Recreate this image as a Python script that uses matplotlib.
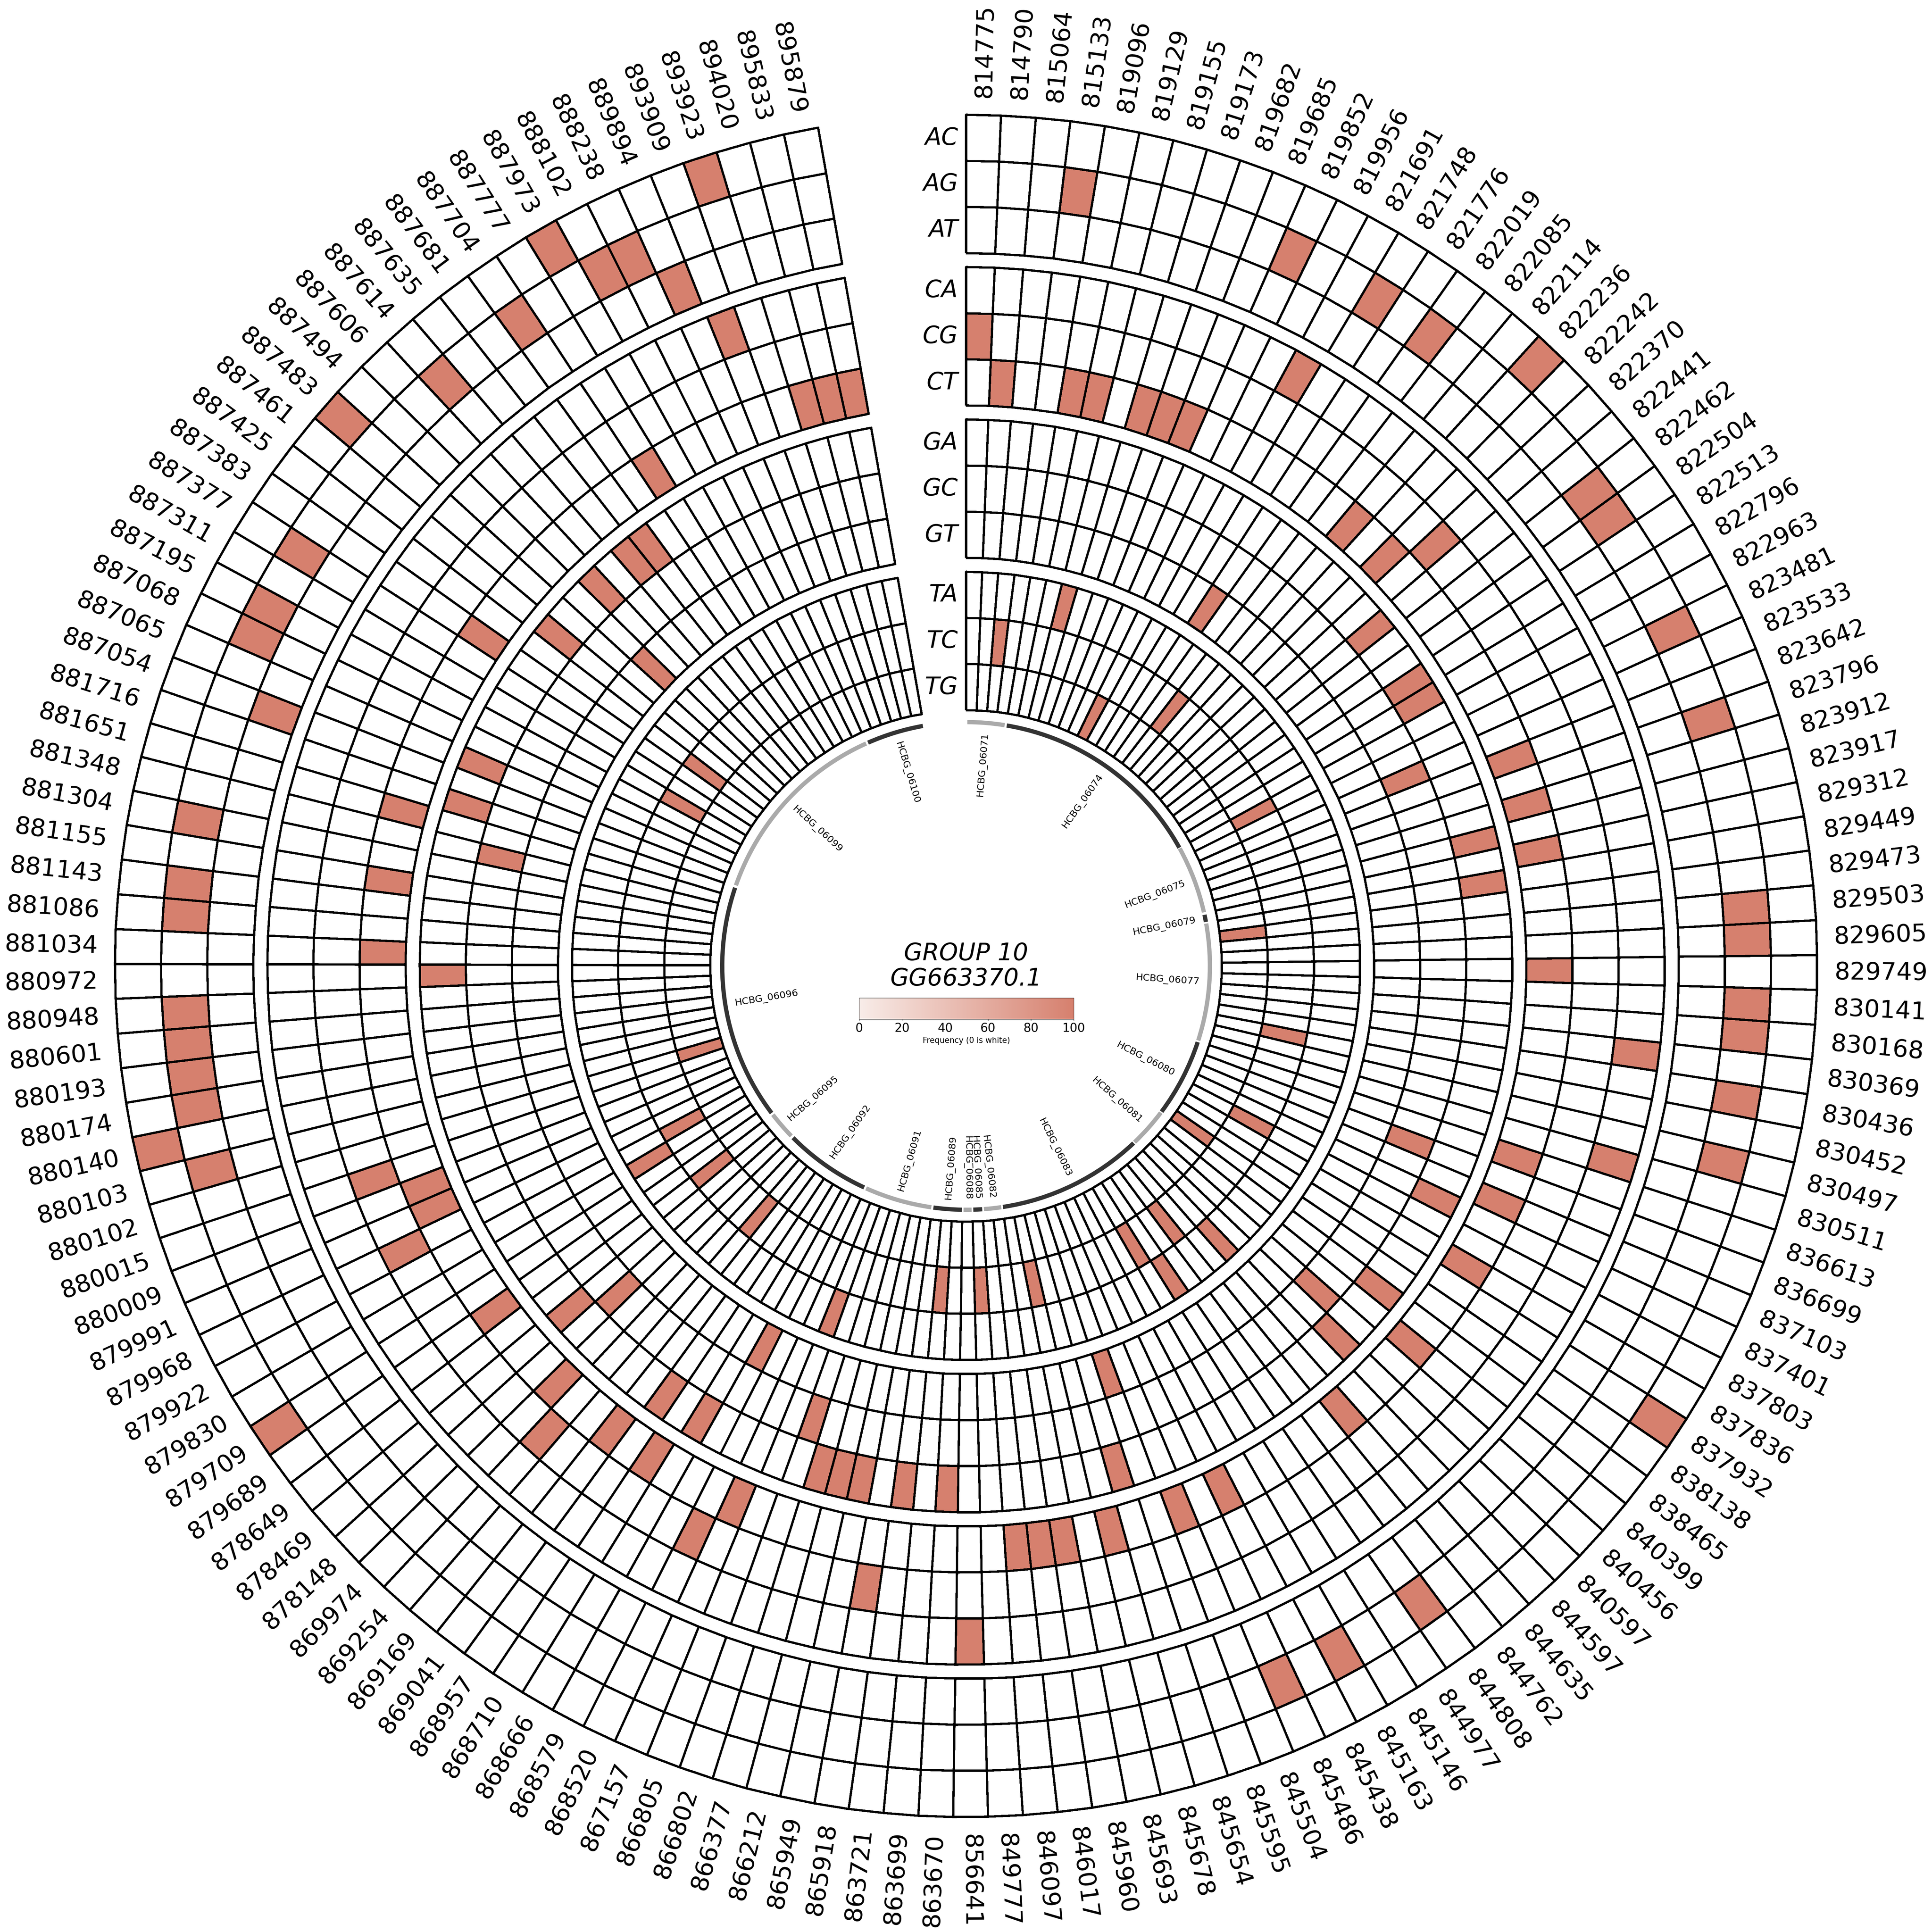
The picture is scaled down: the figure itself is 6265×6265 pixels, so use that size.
import numpy as np
import matplotlib
matplotlib.use('Agg')
import matplotlib.pyplot as plt
from matplotlib.cm import ScalarMappable
from matplotlib.colors import LinearSegmentedColormap, Normalize

positions = [
    814775, 814790, 815064, 815133, 819096, 819129, 819155, 819173, 819682, 819685,
    819852, 819956, 821691, 821748, 821776, 822019, 822085, 822114, 822236, 822242,
    822370, 822441, 822462, 822504, 822513, 822796, 822963, 823481, 823533, 823642,
    823796, 823912, 823917, 829312, 829449, 829473, 829503, 829605, 829749, 830141,
    830168, 830369, 830436, 830452, 830497, 830511, 836613, 836699, 837103, 837401,
    837803, 837836, 837932, 838138, 838465, 840399, 840456, 840597, 844597, 844635,
    844762, 844808, 844977, 845146, 845163, 845438, 845486, 845504, 845595, 845654,
    845678, 845693, 845960, 846017, 846097, 849777, 856641, 863670, 863699, 863721,
    865918, 865949, 866212, 866377, 866802, 866805, 867157, 868520, 868579, 868666,
    868710, 868957, 869041, 869169, 869254, 869974, 878148, 878469, 878649, 879689,
    879709, 879830, 879922, 879968, 879991, 880009, 880015, 880102, 880103, 880140,
    880174, 880193, 880601, 880948, 880972, 881034, 881086, 881143, 881155, 881304,
    881348, 881651, 881716, 887054, 887065, 887068, 887195, 887311, 887377, 887383,
    887425, 887461, 887483, 887494, 887606, 887614, 887635, 887681, 887704, 887777,
    887973, 888102, 888238, 889894, 893909, 893923, 894020, 895833, 895879,
]

# substitution seen at each position, same order as positions
substitutions = [
    'CG', 'CT', 'TC', 'AG', 'CT', 'CT', 'TA', 'CT', 'CT', 'CT',
    'AG', 'TG', 'CA', 'AG', 'GT', 'AG', 'TC', 'CT', 'AC', 'CT',
    'CG', 'GA', 'AG', 'AG', 'GA', 'GA', 'TC', 'AG', 'GC', 'CT',
    'AG', 'CT', 'GA', 'CT', 'GA', 'TG', 'AG', 'AG', 'CT', 'AG',
    'AG', 'CA', 'AG', 'TC', 'AG', 'CA', 'CT', 'GC', 'CT', 'GA',
    'TC', 'CT', 'AC', 'TG', 'GA', 'CT', 'GC', 'GA', 'TA', 'CT',
    'TC', 'AG', 'TA', 'TC', 'AG', 'CT', 'AG', 'CT', 'GT', 'GA',
    'CT', 'TC', 'CT', 'CT', 'CT', 'TC', 'CA', 'GA', 'TC', 'GA',
    'CG', 'GA', 'GA', 'GA', 'GC', 'TA', 'CT', 'CG', 'GT', 'GA',
    'CT', 'GA', 'CT', 'TC', 'CG', 'CT', 'GC', 'GA', 'TC', 'CT',
    'AC', 'TA', 'TC', 'CG', 'CT', 'CT', 'CG', 'TG', 'AG', 'AC',
    'AG', 'AG', 'AG', 'AG', 'GA', 'CT', 'AG', 'AG', 'CT', 'AG',
    'GC', 'CT', 'GA', 'AT', 'GA', 'AG', 'AG', 'TC', 'AG', 'CT',
    'TC', 'GA', 'AC', 'GT', 'GA', 'AG', 'GA', 'GA', 'AG', 'CT',
    'AC', 'AG', 'AG', 'AT', 'CA', 'AC', 'CT', 'CT', 'CT',
]
frequency = 100

track_rows = [
    ['AC', 'AG', 'AT'],
    ['CA', 'CG', 'CT'],
    ['GA', 'GC', 'GT'],
    ['TA', 'TC', 'TG'],
]

gene_names = [
    'HCBG_06071', 'HCBG_06074', 'HCBG_06075', 'HCBG_06079', 'HCBG_06077', 'HCBG_06080',
    'HCBG_06081', 'HCBG_06083', 'HCBG_06082', 'HCBG_06085', 'HCBG_06088', 'HCBG_06089',
    'HCBG_06091', 'HCBG_06092', 'HCBG_06095', 'HCBG_06096', 'HCBG_06099', 'HCBG_06100',
]
# gene extents in degrees clockwise from the top
gene_starts = [0.3, 9.6, 61.2, 77.9, 80.0, 108.2, 127.0, 136.6, 171.7, 176.2, 178.7, 181.0,
               188.2, 204.7, 225.8, 232.9, 289.3, 336.3]
gene_ends = [9.1, 61.0, 77.3, 79.6, 107.8, 126.7, 136.3, 171.3, 175.8, 178.3, 180.6, 187.7,
             204.2, 225.2, 232.4, 288.7, 335.8, 349.8]

FIG_IN = 6713 / 600
# 6713 px square is over the 40 Mpx the checker can open, so save a bit smaller (about 6265 px)
DPI = 560
SPAN_DEG = 350
RMAX = 113.51
TRACK_TOPS = [100, 82.1, 64.2, 46.3]
TRACK_HEIGHT = 16.25
LINE_W = 0.8
HIGH_COLOR = '#D6806E'
LOW_COLOR = '#F8ECE8'


def radial_rotation(deg):
    # keep text readable, same flip as the bottom half of the circle needs
    if deg <= 180:
        return 90 - deg
    return 270 - deg


def draw_heat_tracks(ax, cmap, theta_edges):
    for rows, top in zip(track_rows, TRACK_TOPS):
        # first row is the outermost one
        r_edges = np.linspace(top - TRACK_HEIGHT, top, len(rows) + 1)
        values = np.full((len(rows), len(positions)), np.nan)
        for i, sub in enumerate(substitutions):
            if sub in rows:
                values[len(rows) - 1 - rows.index(sub), i] = frequency
        ax.pcolormesh(theta_edges, r_edges, np.ma.masked_invalid(values), cmap=cmap,
                      vmin=0, vmax=100, edgecolors='black', linewidth=LINE_W)

        row_h = TRACK_HEIGHT / len(rows)
        for j, label in enumerate(rows):
            ax.annotate(label, xy=(0, top - row_h * (j + 0.5)), xytext=(-3.4, 0),
                        textcoords='offset points', ha='right', va='center',
                        fontsize=10, style='italic')


def draw_position_labels(ax, step):
    for i, pos in enumerate(positions):
        deg = (i + 0.5) * step
        ax.text(np.radians(deg), 107.5, str(pos), fontsize=10.2, ha='center', va='center',
                rotation=radial_rotation(deg), rotation_mode='anchor')


def draw_genes(ax):
    for i, name in enumerate(gene_names):
        start, end = np.radians(gene_starts[i]), np.radians(gene_ends[i])
        color = '#AAAAAA' if i % 2 == 0 else '#333333'
        ax.bar((start + end) / 2, 0.5, width=end - start, bottom=28.4, color=color,
               linewidth=0)
        mid = (gene_starts[i] + gene_ends[i]) / 2
        ax.text(np.radians(mid), 23.75, name, fontsize=4.05, ha='center', va='center',
                rotation=radial_rotation(mid), rotation_mode='anchor')


def draw_colorbar(fig, cmap):
    cax = fig.add_axes([0.4447, 0.4724, 0.111, 0.011])
    cbar = fig.colorbar(ScalarMappable(Normalize(0, 100), cmap), cax=cax, orientation='horizontal')
    cbar.set_ticks([0, 20, 40, 60, 80, 100])
    cbar.ax.tick_params(labelsize=5, length=0.6, width=0.12, pad=0.8)
    cbar.outline.set_linewidth(0.12)
    cbar.set_label('Frequency (0 is white)', fontsize=3.3, labelpad=1.0)


def main():
    cmap = LinearSegmentedColormap.from_list('freq', [LOW_COLOR, HIGH_COLOR])
    cmap.set_bad('white')

    fig = plt.figure(figsize=(FIG_IN, FIG_IN), dpi=DPI)
    ax = fig.add_axes([0, 0, 1, 1], projection='polar')
    ax.set_theta_zero_location('N')
    ax.set_theta_direction(-1)
    ax.set_ylim(0, RMAX)
    ax.set_axis_off()

    step = SPAN_DEG / len(positions)
    theta_edges = np.radians(np.arange(len(positions) + 1) * step)

    draw_heat_tracks(ax, cmap, theta_edges)
    draw_position_labels(ax, step)
    draw_genes(ax)

    ax.text(0, 0, 'GROUP 10\nGG663370.1', fontsize=10, style='italic', ha='center', va='center',
            linespacing=1.1)
    draw_colorbar(fig, cmap)

    fig.savefig('out.png', dpi=DPI)


if __name__ == '__main__':
    main()
